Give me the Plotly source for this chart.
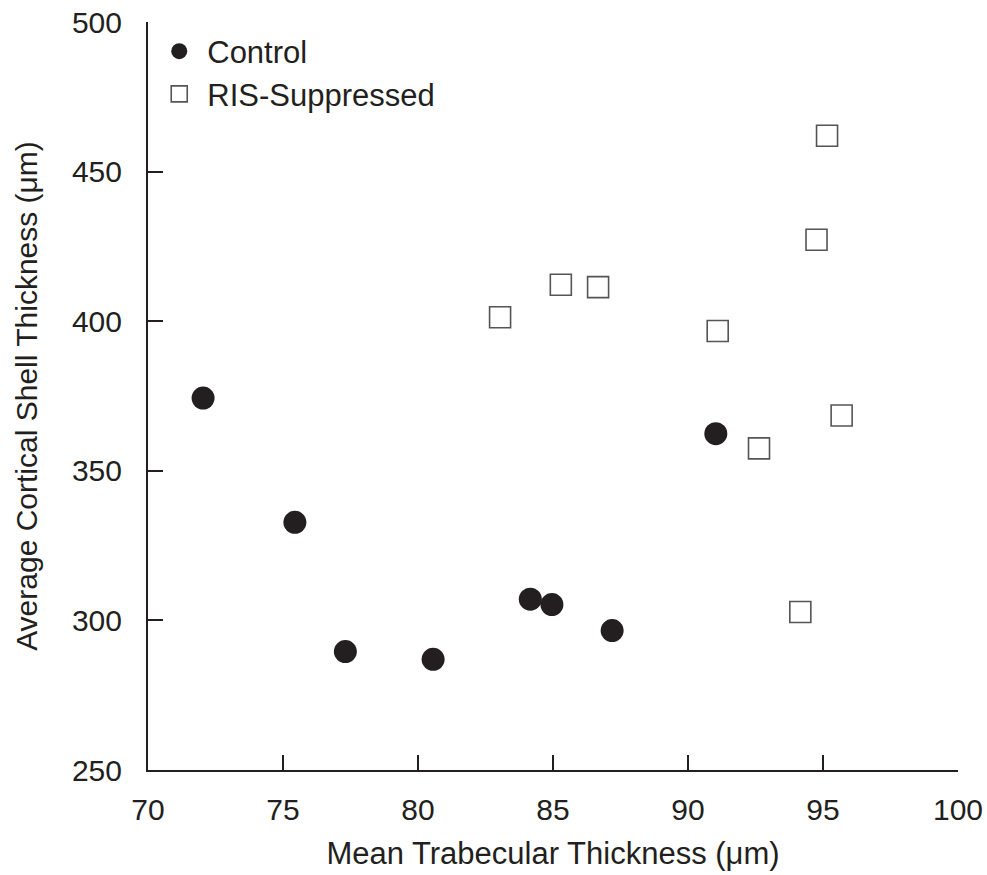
import plotly.graph_objects as go

# Data
control_x = [72.04, 75.44, 77.31, 80.56, 84.16, 84.96, 87.19, 91.03]
control_y = [374.3, 332.8, 289.6, 287.0, 307.1, 305.3, 296.6, 362.4]

ris_x = [83.04, 85.29, 86.67, 91.10, 92.63, 95.15, 94.76, 95.69, 94.16]
ris_y = [401.3, 412.2, 411.4, 396.7, 357.5, 462.0, 427.2, 368.5, 302.8]

x_ticks = [70, 75, 80, 85, 90, 95, 100]
y_ticks = [250, 300, 350, 400, 450, 500]

INK = "#231f20"
FONT = "Liberation Sans, Arial, sans-serif"
TICK_SIZE = 30
TEXT_SIZE = 31

fig = go.Figure()
fig.add_trace(go.Scatter(
    x=control_x, y=control_y, mode="markers", name="Control",
    marker=dict(symbol="circle", size=23, color=INK, line=dict(width=0)),
    legend="legend",
))
fig.add_trace(go.Scatter(
    x=ris_x, y=ris_y, mode="markers", name="RIS-Suppressed",
    marker=dict(symbol="square", size=21, color="white",
                line=dict(width=1.6, color="#555555")),
    legend="legend2",
))

axis_common = dict(
    showgrid=False, zeroline=False, showline=True, linecolor=INK, linewidth=2,
    ticks="inside", ticklen=15, tickwidth=2, tickcolor=INK,
    tickfont=dict(family=FONT, size=TICK_SIZE, color=INK),
    mirror=False, automargin=False,
)

fig.update_layout(
    width=987, height=875,
    paper_bgcolor="white", plot_bgcolor="white",
    margin=dict(l=148, r=29, t=22, b=105),
    font=dict(family=FONT, size=TEXT_SIZE, color=INK),
    xaxis=dict(range=[70, 100], tickvals=x_ticks, ticklabelstandoff=12,
               title=dict(text="Mean Trabecular Thickness (μm)",
                          font=dict(family=FONT, size=TEXT_SIZE, color=INK), standoff=17),
               **axis_common),
    yaxis=dict(range=[250, 500], tickvals=y_ticks, ticklabelstandoff=18,
               title=dict(text="Average Cortical Shell Thickness (μm)",
                          font=dict(family=FONT, size=30, color=INK), standoff=25),
               **axis_common),
    legend=dict(x=0.004, y=0.9605, xanchor="left", yanchor="middle",
                itemwidth=46, bgcolor="rgba(0,0,0,0)",
                font=dict(family=FONT, size=TEXT_SIZE, color=INK)),
    legend2=dict(x=0.004, y=0.9035, xanchor="left", yanchor="middle",
                 itemwidth=46, bgcolor="rgba(0,0,0,0)",
                 font=dict(family=FONT, size=TEXT_SIZE, color=INK)),
    showlegend=True,
)

fig.write_html("out.html")
